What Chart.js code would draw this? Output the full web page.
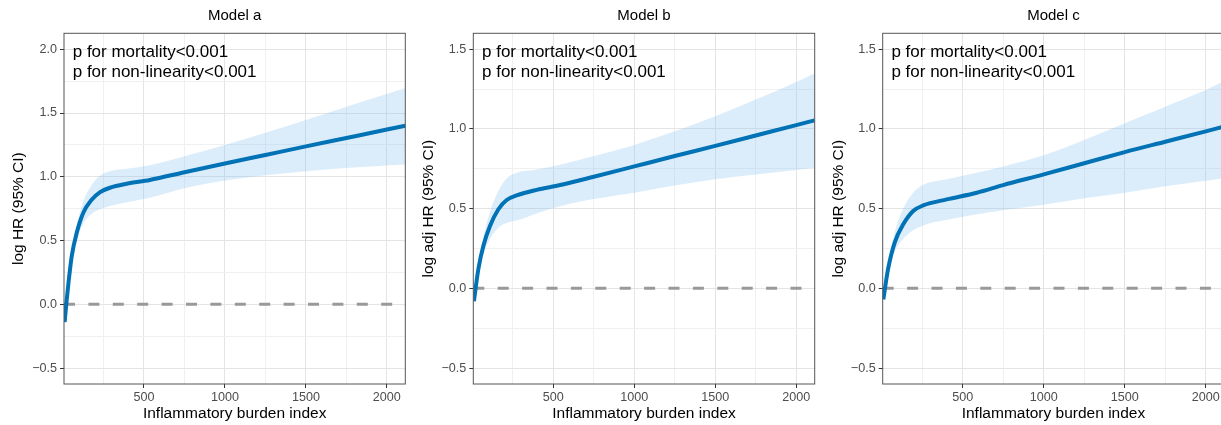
<!DOCTYPE html>
<html>
<head>
<meta charset="utf-8">
<title>Inflammatory burden index – log HR</title>
<script src="https://cdn.jsdelivr.net/npm/chart.js@4"></script>
<style>
  html, body { margin: 0; padding: 0; background: #fff; overflow: hidden; }
  .panel { position: absolute; top: 0; width: 410px; height: 425px; }
</style>
</head>
<body>
<div class="panel" style="left:0px"><canvas id="chart-a" width="410" height="425"></canvas></div>
<div class="panel" style="left:410px"><canvas id="chart-b" width="410" height="425"></canvas></div>
<div class="panel" style="left:820px"><canvas id="chart-c" width="410" height="425"></canvas></div>
<script>
// Values (x = inflammatory burden index)

// Model a
const xA    = [10, 20, 34, 54, 85, 126, 177, 229, 290, 393, 536, 750, 1000, 1250, 1500, 1750, 2000, 2114];
const fitA  = [-0.14, 0.0, 0.172, 0.38, 0.5625, 0.72, 0.82, 0.88, 0.914, 0.945, 0.975, 1.035, 1.104, 1.171, 1.238, 1.304, 1.37, 1.40];
const lowA  = [-0.14, -0.005, 0.155, 0.33, 0.50, 0.635, 0.71, 0.745, 0.77, 0.80, 0.836, 0.91, 0.97, 1.012, 1.044, 1.068, 1.088, 1.096];
const highA = [-0.14, 0.005, 0.195, 0.43, 0.63, 0.81, 0.935, 1.01, 1.044, 1.062, 1.09, 1.16, 1.25, 1.345, 1.445, 1.55, 1.65, 1.695];

// Model b
const xB    = [10, 37, 68, 109, 161, 212, 274, 397, 542, 750, 1000, 1250, 1500, 1750, 2000, 2114];
const fitB  = [-0.08, 0.12, 0.266, 0.391, 0.496, 0.554, 0.583, 0.618, 0.648, 0.70, 0.765, 0.83, 0.894, 0.959, 1.024, 1.054];
const lowB  = [-0.08, 0.10, 0.215, 0.31, 0.38, 0.41, 0.425, 0.47, 0.515, 0.56, 0.60, 0.645, 0.685, 0.715, 0.742, 0.756];
const highB = [-0.08, 0.145, 0.32, 0.48, 0.61, 0.69, 0.725, 0.745, 0.775, 0.83, 0.90, 0.985, 1.08, 1.185, 1.295, 1.35];

// Model c
const xC    = [10, 39, 80, 132, 194, 256, 401, 587, 750, 1000, 1250, 1500, 1750, 2000, 2114];
const fitC  = [-0.07, 0.12, 0.2875, 0.40, 0.485, 0.52, 0.558, 0.60, 0.648, 0.715, 0.785, 0.855, 0.92, 0.985, 1.015];
const lowC  = [-0.07, 0.10, 0.23, 0.31, 0.365, 0.395, 0.43, 0.465, 0.49, 0.525, 0.565, 0.60, 0.64, 0.675, 0.69];
const highC = [-0.07, 0.145, 0.35, 0.50, 0.60, 0.65, 0.685, 0.725, 0.765, 0.835, 0.93, 1.035, 1.14, 1.245, 1.30];

// Axes
const xMin = 6, xMax = 2114;
const xMajor = [500, 1000, 1500, 2000];
const xMinor = [250, 750, 1250, 1750];
const yMajorA = [-0.5, 0, 0.5, 1, 1.5, 2];
const yMajorBC = [-0.5, 0, 0.5, 1, 1.5];
const yRangeA = [-0.625, 2.125];
const yRangeBC = [-0.6, 1.6];

const pText = ['p for mortality<0.001', 'p for non-linearity<0.001'];
const xTitle = 'Inflammatory burden index';

const FONT = '"Liberation Sans", Arial, Helvetica, sans-serif';

function pts(xs, ys) {
    return xs.map((x, i) => ({ x: x, y: ys[i] }));
}

function inList(list, v) {
    return list.some(m => Math.abs(m - v) < 1e-9);
}

// Draws the panel border and the p-value text
const framePlugin = {
    id: 'frame',
    afterDatasetsDraw(chart) {
        const { ctx, chartArea: a } = chart;
        ctx.save();
        ctx.strokeStyle = '#555555';
        ctx.lineWidth = 1;
        ctx.strokeRect(a.left, a.top, a.right - a.left, a.bottom - a.top);
        ctx.fillStyle = '#000';
        ctx.font = '17px ' + FONT;
        ctx.textBaseline = 'alphabetic';
        ctx.textAlign = 'left';
        ctx.fillText(pText[0], a.left + 8.7, a.top + 23.2);
        ctx.fillText(pText[1], a.left + 8.7, a.top + 43.2);
        ctx.restore();
    }
};

function makePanel(id, title, yTitle, xs, fit, low, high, yMajor, yRange, axisW, rightPad) {
    const yMinor = yMajor.slice(1).map((v, i) => (v + yMajor[i]) / 2);
    const yTicks = yMajor.concat(yMinor).sort((p, q) => p - q);
    const xTicks = xMajor.concat(xMinor).sort((p, q) => p - q);

    new Chart(document.getElementById(id), {
        type: 'line',
        data: {
            datasets: [
                {
                    data: pts(xs, low),
                    borderColor: 'transparent',
                    borderWidth: 0,
                    pointRadius: 0,
                    fill: false,
                    cubicInterpolationMode: 'monotone',
                    order: 3
                },
                {
                    data: pts(xs, high),
                    borderColor: 'transparent',
                    borderWidth: 0,
                    pointRadius: 0,
                    fill: '-1',
                    backgroundColor: 'rgba(135, 195, 240, 0.3)',
                    cubicInterpolationMode: 'monotone',
                    order: 3
                },
                {
                    data: [{ x: xMin, y: 0 }, { x: xMax, y: 0 }],
                    borderColor: '#999999',
                    borderWidth: 3,
                    borderDash: [11, 13.4],
                    borderCapStyle: 'butt',
                    pointRadius: 0,
                    fill: false,
                    order: 1
                },
                {
                    data: pts(xs, fit),
                    borderColor: '#0072B5',
                    borderWidth: 4,
                    pointRadius: 0,
                    fill: false,
                    cubicInterpolationMode: 'monotone',
                    order: 0
                }
            ]
        },
        options: {
            responsive: false,
            animation: false,
            events: [],
            layout: { padding: { left: 0, right: rightPad, top: 0, bottom: 0 } },
            plugins: {
                legend: { display: false },
                tooltip: { enabled: false },
                title: {
                    display: true,
                    text: title,
                    color: '#000',
                    fullSize: false,
                    font: { family: FONT, size: 15, weight: 'normal', lineHeight: 1.2 },
                    padding: { top: 7, bottom: 8.3 }
                }
            },
            scales: {
                x: {
                    type: 'linear',
                    min: xMin,
                    max: xMax,
                    afterBuildTicks: s => { s.ticks = xTicks.map(v => ({ value: v })); },
                    afterFit: s => { s.height = 41; },
                    border: { display: false },
                    grid: {
                        color: c => inList(xMajor, c.tick.value) ? '#e4e4e4' : '#f0f0f0',
                        lineWidth: 1,
                        tickLength: 4,
                        tickColor: c => inList(xMajor, c.tick.value) ? '#333333' : 'rgba(0,0,0,0)'
                    },
                    ticks: {
                        autoSkip: false,
                        maxRotation: 0,
                        padding: 2,
                        color: '#4d4d4d',
                        font: { family: FONT, size: 12.6 },
                        callback: v => inList(xMajor, v) ? String(v) : ''
                    },
                    title: {
                        display: true,
                        text: xTitle,
                        color: '#000',
                        font: { family: FONT, size: 15.5, lineHeight: 1.2 },
                        padding: { top: 2, bottom: 1.5 }
                    }
                },
                y: {
                    type: 'linear',
                    min: yRange[0],
                    max: yRange[1],
                    afterBuildTicks: s => { s.ticks = yTicks.map(v => ({ value: v })); },
                    afterFit: s => { s.width = axisW; },
                    border: { display: false },
                    grid: {
                        color: c => inList(yMajor, c.tick.value) ? '#e4e4e4' : '#f0f0f0',
                        lineWidth: 1,
                        tickLength: 4,
                        tickColor: c => inList(yMajor, c.tick.value) ? '#333333' : 'rgba(0,0,0,0)'
                    },
                    ticks: {
                        autoSkip: false,
                        padding: 3,
                        color: '#4d4d4d',
                        font: { family: FONT, size: 12.6 },
                        callback: v => {
                            if (!inList(yMajor, v)) return '';
                            const n = Math.abs(v) < 1e-9 ? 0 : v;
                            return n.toFixed(1).replace('-', '\u2212');
                        }
                    },
                    title: {
                        display: true,
                        text: yTitle,
                        color: '#000',
                        font: { family: FONT, size: 15.5, lineHeight: 1.2 },
                        padding: { top: 9.7, bottom: 0 }
                    }
                }
            }
        },
        plugins: [framePlugin]
    });
}

makePanel('chart-a', 'Model a', 'log HR (95% CI)', xA, fitA, lowA, highA, yMajorA, yRangeA, 64, 4.7);
makePanel('chart-b', 'Model b', 'log adj HR (95% CI)', xB, fitB, lowB, highB, yMajorBC, yRangeBC, 63.3, 5.3);
makePanel('chart-c', 'Model c', 'log adj HR (95% CI)', xC, fitC, lowC, highC, yMajorBC, yRangeBC, 62.7, 5.8);
</script>
</body>
</html>
